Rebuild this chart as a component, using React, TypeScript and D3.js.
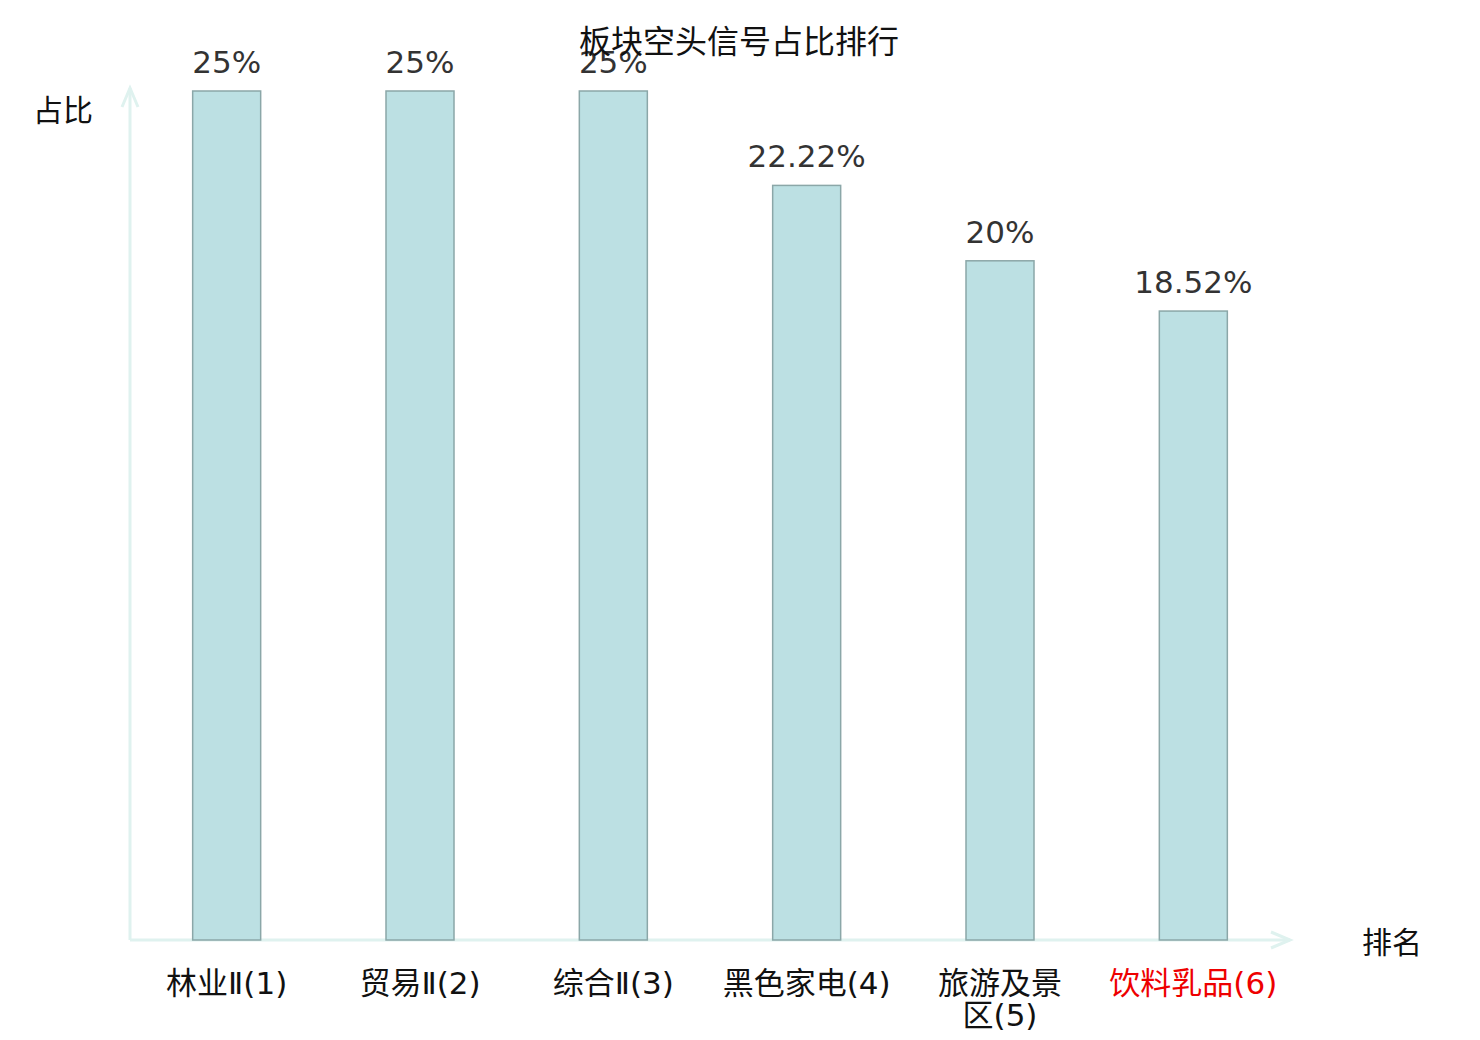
import * as d3 from 'd3';
import React, { useEffect, useRef } from 'react';

// 板块空头信号占比排行 - bar chart with arrow axes

const categories: string[] = ['林业Ⅱ(1)', '贸易Ⅱ(2)', '综合Ⅱ(3)', '黑色家电(4)', '旅游及景区(5)', '饮料乳品(6)'];
const ratios: number[] = [25, 25, 25, 22.22, 20, 18.52];
const highlightIndex: number[] = [5];

const title = '板块空头信号占比排行';
const yName = '占比';
const xName = '排名';

export default () => {
    const ref = useRef<any>();

    useEffect(() => {
        const width = 1480;
        const height = 1040;
        const margin = { top: 91, right: 190, bottom: 100, left: 130 };
        const axisColor = '#dff2ef';
        const cjk = 'Noto Sans CJK SC, sans-serif';
        const wrapWidth = 180;

        const svg = d3.select<any, any>(ref.current)
            .attr('width', width)
            .attr('height', height);
        svg.selectAll('*').remove();

        const xScale = d3.scaleBand<string>()
            .domain(categories)
            .range([margin.left, width - margin.right]);
        const yScale = d3.scaleLinear()
            .domain([0, d3.max(ratios) as number])
            .range([height - margin.bottom, margin.top]);

        const x0 = margin.left;
        const y0 = height - margin.bottom;
        const barW = 68;

        // axes
        const axes = svg.append('g')
            .attr('stroke', axisColor)
            .attr('stroke-width', 3)
            .attr('fill', 'none');
        axes.append('line').attr('x1', x0).attr('y1', y0).attr('x2', x0).attr('y2', margin.top - 3);
        axes.append('polyline').attr('points', `${x0 - 8},${margin.top + 16} ${x0},${margin.top - 3} ${x0 + 8},${margin.top + 16}`);
        const xEnd = width - margin.right;
        axes.append('line').attr('x1', x0).attr('y1', y0).attr('x2', xEnd).attr('y2', y0);
        axes.append('polyline').attr('points', `${xEnd - 19},${y0 - 8} ${xEnd},${y0} ${xEnd - 19},${y0 + 8}`);

        // bars
        svg.append('g').selectAll('rect').data(ratios).join('rect')
            .attr('x', (d, i) => (xScale(categories[i]) as number) + xScale.bandwidth() / 2 - barW / 2)
            .attr('y', d => yScale(d))
            .attr('width', barW)
            .attr('height', d => yScale(0) - yScale(d))
            .attr('fill', '#bce0e3')
            .attr('stroke', '#8ba7a8')
            .attr('stroke-width', 1.5);

        // value labels
        svg.append('g').selectAll('text').data(ratios).join('text')
            .attr('x', (d, i) => (xScale(categories[i]) as number) + xScale.bandwidth() / 2)
            .attr('y', d => yScale(d) - 18)
            .attr('text-anchor', 'middle')
            .attr('font-family', 'DejaVu Sans, sans-serif')
            .attr('font-size', 31)
            .attr('fill', '#333')
            .text(d => `${d}%`);

        // category labels, wrapped when wider than wrapWidth
        const labels = svg.append('g').selectAll('text').data(categories).join('text')
            .attr('x', d => (xScale(d) as number) + xScale.bandwidth() / 2)
            .attr('y', y0 + 54)
            .attr('text-anchor', 'middle')
            .attr('font-family', 'DejaVu Sans, Noto Sans CJK SC, sans-serif')
            .attr('font-size', 31)
            .attr('fill', (d, i) => highlightIndex.includes(i) ? '#ee0000' : '#111');

        // a CJK char keeps the latin run after it on the same line
        const tokenRe = /[\u4e00-\u9fff][^\u4e00-\u9fff]*|[^\u4e00-\u9fff]+/g;
        labels.each(function (d) {
            const el = d3.select(this);
            const cx = el.attr('x');
            let line: string[] = [];
            let tspan = el.append('tspan').attr('x', cx).attr('dy', 0);
            for (const tok of d.match(tokenRe) || []) {
                line.push(tok);
                tspan.text(line.join(''));
                if ((tspan.node() as any).getComputedTextLength() > wrapWidth && line.length > 1) {
                    line.pop();
                    tspan.text(line.join(''));
                    line = [tok];
                    tspan = el.append('tspan').attr('x', cx).attr('dy', 32).text(tok);
                }
            }
        });

        // axis names and title
        svg.append('text')
            .attr('x', 63).attr('y', 121)
            .attr('text-anchor', 'middle')
            .attr('font-family', cjk)
            .attr('font-size', 30)
            .attr('fill', '#111')
            .text(yName);
        svg.append('text')
            .attr('x', 1392).attr('y', 953)
            .attr('text-anchor', 'middle')
            .attr('font-family', cjk)
            .attr('font-size', 30)
            .attr('fill', '#111')
            .text(xName);
        svg.append('text')
            .attr('x', 739).attr('y', 53)
            .attr('text-anchor', 'middle')
            .attr('font-family', cjk)
            .attr('font-size', 32)
            .attr('fill', '#111')
            .text(title);
    }, []);

    return (
        <div style={{ position: 'absolute', left: 0, top: 0, background: '#fff' }}>
            <svg ref={ref} style={{ display: 'block' }}></svg>
        </div>
    );
};
